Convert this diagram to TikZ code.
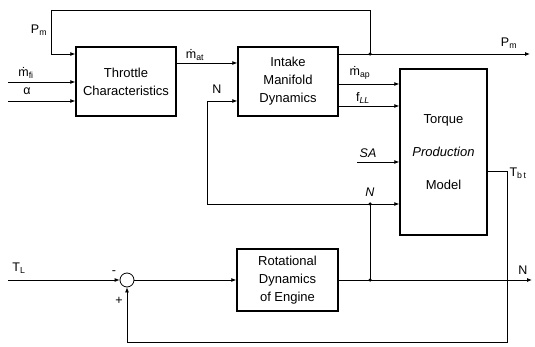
\documentclass[tikz,border=0pt]{standalone}
\usepackage{fontspec}
\setmainfont{Liberation Sans}
\usetikzlibrary{arrows.meta}
\begin{document}
\begin{tikzpicture}[x=1pt,y=-1pt,
  blk/.style={draw, line width=1.4pt, inner sep=0pt, align=center, font=\fontsize{13}{18}\selectfont},
  lbl/.style={font=\fontsize{12.5}{14}\selectfont, inner sep=0pt},
  sig/.style={line width=0.8pt, -{Latex[length=5pt,width=4pt]}},
  ln/.style={line width=0.8pt},
  dot/.style={circle, fill, inner sep=0pt, minimum size=3.5pt},
  sumc/.style={circle, draw, line width=0.8pt, inner sep=0pt, minimum size=14pt}]
\useasboundingbox (0,0) rectangle (535,347);
% blocks
\node[blk, minimum width=100pt, minimum height=69pt] (thr) at (126,81.5) {Throttle\\Characteristics};
\node[blk, minimum width=100pt, minimum height=69pt] (int) at (288,81.5) {Intake\\Manifold\\Dynamics};
\node[blk, minimum width=87pt, minimum height=166pt, font=\fontsize{13}{33}\selectfont] (tor) at (443.5,152) {Torque\\\textit{Production}\\Model};
\node[blk, minimum width=101pt, minimum height=62pt] (rot) at (287.5,280) {Rotational\\Dynamics\\of Engine};
\node[sumc] (sum) at (127,280) {};
% junctions and corners
\node[dot] (j1) at (370,54) {};
\node[dot] (j2) at (370,204) {};
\node[dot] (j3) at (370,280) {};
\coordinate (fiS) at (8,82);
\coordinate (alS) at (8,101);
\coordinate (tlS) at (8,280);
\coordinate (pmE) at (530,54);
\coordinate (nE) at (532,280);
\coordinate (c1) at (370,10);
\coordinate (c2) at (51,10);
\coordinate (c3) at (51,54);
\coordinate (n1) at (207,101);
\coordinate (n2) at (207,204);
\coordinate (t1) at (507,171);
\coordinate (t2) at (507,342);
\coordinate (t3) at (127,342);
\coordinate (sa) at (357,162);
\coordinate (yat) at (0,63);
\coordinate (yap) at (0,84);
\coordinate (yll) at (0,106);
% connectors
\draw[sig] (fiS) -- (fiS -| thr.west);
\draw[sig] (alS) -- (alS -| thr.west);
\draw[sig] (j1.center) -- (c1) -- (c2) -- (c3) -- (c3 -| thr.west);
\draw[sig] (thr.east |- yat) -- (int.west |- yat);
\draw[sig] (int.east |- j1) -- (pmE);
\draw[sig] (int.east |- yap) -- (tor.west |- yap);
\draw[sig] (int.east |- yll) -- (tor.west |- yll);
\draw[sig] (sa) -- (sa -| tor.west);
\draw[ln] (j3.center) -- (j2.center);
\draw[sig] (j2.center) -- (j2 -| tor.west);
\draw[sig] (j2.center) -- (n2) -- (n1) -- (n1 -| int.west);
\draw[sig] (tlS) -- (sum.west);
\draw[sig] (sum.east) -- (rot.west |- sum);
\draw[sig] (rot.east |- j3) -- (nE);
\draw[sig] (tor.east |- t1) -- (t1) -- (t2) -- (t3) -- (sum.south);
% labels
\node[lbl] (lpm1) at (39,30) {P\textsubscript{m}};
\node[lbl] (lfi) at (26,73) {ṁ\textsubscript{fi}};
\node[lbl] (lal) at (27,91) {α};
\node[lbl] (lat) at (195,55) {ṁ\textsubscript{at}};
\node[lbl] (ln1) at (217,89) {N};
\node[lbl] (lap) at (360,73) {ṁ\textsubscript{ap}};
\node[lbl] (lll) at (363,98) {f\textsubscript{\textit{LL}}};
\node[lbl] (lpm2) at (509,43) {P\textsubscript{m}};
\node[lbl] (lsa) at (368,153) {\textit{SA}};
\node[lbl] (ln2) at (370,192) {\textit{N}};
\node[lbl] (ltb) at (518,173) {T\textsubscript{b\,t}};
\node[lbl] (ln3) at (523,270) {N};
\node[lbl] (ltl) at (19,268) {T\textsubscript{L}};
\node[lbl] (lminus) at (114,273) {-};
\node[lbl] (lplus) at (119,301) {+};
\end{tikzpicture}
\end{document}
